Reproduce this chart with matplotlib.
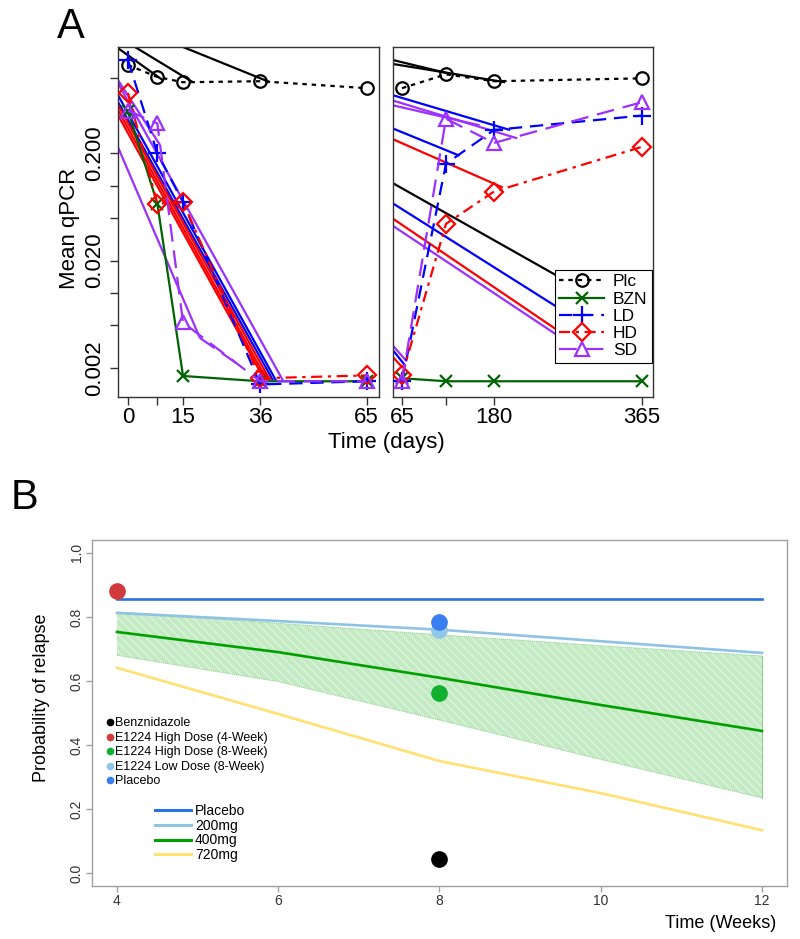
import matplotlib
matplotlib.use('Agg')
import matplotlib.pyplot as plt
from matplotlib.lines import Line2D

plt.rcParams['font.family'] = ['Liberation Sans', 'DejaVu Sans']
plt.rcParams['hatch.linewidth'] = 0.6

# ---------------- Panel A data ----------------
days_left = [0, 8, 15, 36, 65]
days_right = [65, 120, 180, 365]
groups = ['Plc', 'BZN', 'LD', 'HD', 'SD']
plc_left = [1.33, 1.03, 0.92, 0.94, 0.81]
plc_right = [0.81, 1.09, 0.94, 1.00]
bzn_left = [0.50, 0.068, 0.00168, 0.0015, 0.0015]
bzn_right = [0.0016, 0.0015, 0.0015, 0.0015]
ld_left = [1.48, 0.20, 0.070, 0.0014, 0.0015]
ld_right = [0.0015, 0.16, 0.33, 0.45]
hd_left = [0.73, 0.068, 0.070, 0.0016, 0.0017]
hd_right = [0.0017, 0.044, 0.088, 0.23]
sd_left = [0.50, 0.38, 0.0053, 0.0015, 0.0015]
sd_right = [0.0015, 0.42, 0.25, 0.60]
sd_extra_t = [19.6, 30.5]
sd_extra_v = [0.0038, 0.0021]

# fitted (solid) trend segments: group, t0, v0, t1, v1
fit_left = [
    ('Plc', -2.7, 1.91, 9.5, 0.96),
    ('Plc', 1.9, 1.96, 17.7, 0.92),
    ('Plc', 15.0, 1.96, 38.7, 0.92),
    ('SD', -2.7, 0.96, 8.7, 0.24),
    ('SD', -2.7, 0.90, 42.2, 0.00153),
    ('SD', -2.7, 0.227, 19.6, 0.0038),
    ('LD', -2.7, 0.695, 40.3, 0.00153),
    ('LD', -2.7, 0.60, 39.5, 0.00153),
    ('HD', -2.7, 0.563, 38.7, 0.00153),
    ('HD', -2.7, 0.505, 37.9, 0.00153),
    ('HD', -2.7, 0.453, 37.3, 0.00153),
]
fit_right = [
    ('Plc', 54, 1.48, 121, 1.12),
    ('Plc', 54, 1.36, 194, 0.92),
    ('Plc', 54, 0.105, 265, 0.0136),
    ('LD', 54, 0.695, 200, 0.33),
    ('LD', 54, 0.34, 137, 0.19),
    ('LD', 54, 0.068, 272, 0.0064),
    ('HD', 54, 0.27, 191, 0.096),
    ('HD', 54, 0.049, 265, 0.0042),
    ('SD', 54, 0.62, 209, 0.276),
    ('SD', 54, 0.56, 162, 0.365),
    ('SD', 54, 0.042, 291, 0.0028),
    ('SD', 54, 0.0032, 71, 0.0023),
    ('LD', 54, 0.0029, 69, 0.0021),
    ('HD', 54, 0.0025, 66, 0.0020),
]

# ---------------- Panel B data ----------------
weeks = [4, 6, 8, 10, 12]
curve_placebo = [0.856, 0.856, 0.856, 0.856, 0.856]
curve_200 = [0.8125, 0.787, 0.76, 0.724, 0.6875]
curve_400 = [0.753, 0.69, 0.61, 0.525, 0.444]
ci_upper = [0.815, 0.78, 0.744, 0.71, 0.678]
ci_lower = [0.68, 0.598, 0.478, 0.355, 0.235]
curve_720 = [0.641, 0.497, 0.35, 0.25, 0.134]
obs_names = ['Benznidazole', 'E1224 High Dose (4-Week)', 'E1224 High Dose (8-Week)',
             'E1224 Low Dose (8-Week)', 'Placebo']
obs_week = [8, 4, 8, 8, 8]
obs_prob = [0.044, 0.882, 0.5625, 0.76, 0.784]
obs_colors = ['#000000', '#d03a3a', '#12b030', '#92c6e6', '#3a7ff0']
curve_names = ['Placebo', '200mg', '400mg', '720mg']
curve_colors = ['#2a70e8', '#8ec3e6', '#00a000', '#ffe070']

# ---------------- styles ----------------
sty = {
    'Plc': dict(color='black', marker='o', dashes=(2.0, 2.2), ms=9),
    'BZN': dict(color='#006400', marker='x', dashes=None, ms=9),
    'LD': dict(color='#0000ff', marker='+', dashes=(6, 3.5), ms=13),
    'HD': dict(color='#ff0000', marker='D', dashes=(5, 2.5, 1.5, 2.5), ms=9),
    'SD': dict(color='#9b30ff', marker='^', dashes=(8, 4), ms=10),
}
LW = 1.6

fig = plt.figure(figsize=(8, 9.39), dpi=100)
axL = fig.add_axes([118/800, 1-397/939, 261/800, 350/939])
axR = fig.add_axes([393/800, 1-397/939, 260/800, 350/939])

for ax in (axL, axR):
    ax.set_yscale('log')
    ax.set_ylim(0.00107, 1.96)
    ax.minorticks_off()
    for s in ax.spines.values():
        s.set_color('#333333')
        s.set_linewidth(1.0)
axL.set_xlim(-2.72, 68.4)
axR.set_xlim(53.75, 378.75)

def draw_fits(ax, fits):
    for g, t0, v0, t1, v1 in fits:
        ax.plot([t0, t1], [v0, v1], color=sty[g]['color'], lw=LW, solid_capstyle='butt', zorder=2)

def draw_series(ax, t, v, g):
    st = sty[g]
    line, = ax.plot(t, v, color=st['color'], lw=LW, marker=st['marker'], ms=st['ms'],
                    mfc='none', mec=st['color'], mew=1.6, zorder=3)
    if st['dashes'] is not None:
        line.set_dashes(st['dashes'])

draw_fits(axL, fit_left)
draw_fits(axR, fit_right)
left_data = [plc_left, bzn_left, ld_left, hd_left, sd_left]
right_data = [plc_right, bzn_right, ld_right, hd_right, sd_right]
for g, vl, vr in zip(groups, left_data, right_data):
    draw_series(axL, days_left, vl, g)
    draw_series(axR, days_right, vr, g)
ex, = axL.plot(sd_extra_t, sd_extra_v, color=sty['SD']['color'], lw=LW, zorder=3)
ex.set_dashes(sty['SD']['dashes'])

axL.set_xticks([0, 8, 15, 36, 65], ['0', '', '15', '36', '65'])
axL.set_yticks([1, 0.2, 0.1, 0.05, 0.02, 0.01, 0.005, 0.002],
               ['', '0.200', '', '', '0.020', '', '', '0.002'])
axL.tick_params(axis='both', direction='out', length=6, width=1, labelsize=16, color='#333333')
axL.tick_params(axis='x', pad=1)
axL.tick_params(axis='y', pad=3)
for lab in axL.get_yticklabels():
    lab.set_rotation(90)
    lab.set_va('center')

axR.set_xticks([65, 120, 180, 365], ['65', '', '180', '365'])
axR.tick_params(axis='x', direction='out', length=6, width=1, labelsize=16, pad=1, color='#333333')
axR.tick_params(axis='y', left=False, labelleft=False)
axR.set_yticks([])

handles = []
for g in groups:
    st = sty[g]
    h = Line2D([], [], color=st['color'], lw=LW, marker=st['marker'], ms=st['ms'],
               mfc='none', mec=st['color'], mew=1.6)
    if st['dashes'] is not None:
        h.set_dashes(st['dashes'])
    handles.append(h)
leg = axR.legend(handles, groups, loc='lower right', bbox_to_anchor=(0.995, 0.098),
                 frameon=True, fancybox=False, edgecolor='black', framealpha=1,
                 fontsize=12.5, handlelength=2.6, labelspacing=0.12, borderpad=0.25,
                 handletextpad=0.5, numpoints=1, borderaxespad=0)
leg.get_frame().set_linewidth(0.8)

fig.text(69/800, 1-228/939, 'Mean qPCR', rotation=90, fontsize=16, ha='center', va='center')
fig.text(386/800, 1-442/939, 'Time (days)', fontsize=16, ha='center', va='center')
fig.text(57/800, 1-38/939, 'A', fontsize=30, ha='left', va='baseline')
fig.text(11/800, 1-509/939, 'B', fontsize=30, ha='left', va='baseline')

# ---------------- Panel B ----------------
axB = fig.add_axes([92/800, 1-886/939, 695/800, 346/939])
axB.set_xlim(3.69, 12.31)
axB.set_ylim(-0.04, 1.04)
for s in axB.spines.values():
    s.set_color('#a0a0a0')
    s.set_linewidth(1.0)

axB.fill_between(weeks, ci_lower, ci_upper, facecolor='#c4eac4', edgecolor='#eaf8ea',
                 hatch='\\\\\\\\', linewidth=0, zorder=1)
axB.plot(weeks, ci_upper, color='#86cf86', lw=0.7, ls=(0, (1, 1)), zorder=1.5)
axB.plot(weeks, ci_lower, color='#86cf86', lw=0.7, ls=(0, (1, 1)), zorder=1.5)
axB.plot([weeks[-1], weeks[-1]], [ci_lower[-1], ci_upper[-1]], color='#86cf86', lw=0.7, zorder=1.5)

for name, vals, col in zip(curve_names, [curve_placebo, curve_200, curve_400, curve_720], curve_colors):
    axB.plot(weeks, vals, color=col, lw=1.9, zorder=2)

for i in range(len(obs_names)):
    axB.plot([obs_week[i]], [obs_prob[i]], 'o', color=obs_colors[i], ms=11, zorder=4)

axB.set_xticks([4, 6, 8, 10, 12], ['4', '6', '8', '10', '12'])
axB.set_yticks([0, 0.2, 0.4, 0.6, 0.8, 1.0], ['0.0', '0.2', '0.4', '0.6', '0.8', '1.0'])
axB.tick_params(axis='both', direction='out', length=4, width=1, color='#a0a0a0',
                labelsize=10, labelcolor='#333333', pad=2)
for lab in axB.get_yticklabels():
    lab.set_rotation(90)
    lab.set_va('center')

obs_handles = [Line2D([], [], ls='none', marker='o', ms=4.5, color=c) for c in obs_colors]
leg1 = axB.legend(obs_handles, obs_names, loc='upper left', bbox_to_anchor=(0.021, 0.487),
                  frameon=False, fontsize=9, handlelength=0.5, handletextpad=0.15,
                  labelspacing=0.2, borderpad=0, borderaxespad=0)
axB.add_artist(leg1)
curve_handles = [Line2D([], [], color=c, lw=2.2) for c in curve_colors]
leg2 = axB.legend(curve_handles, curve_names, loc='upper left', bbox_to_anchor=(0.09, 0.237),
                  frameon=False, fontsize=10, handlelength=2.6, handletextpad=0.3,
                  labelspacing=0.05, borderpad=0, borderaxespad=0)

fig.text(42/800, 1-698/939, 'Probability of relapse', rotation=90, fontsize=13, ha='center', va='center')
fig.text(776/800, 1-923/939, 'Time (Weeks)', fontsize=13, ha='right', va='center')

fig.savefig('out.png', dpi=100)
